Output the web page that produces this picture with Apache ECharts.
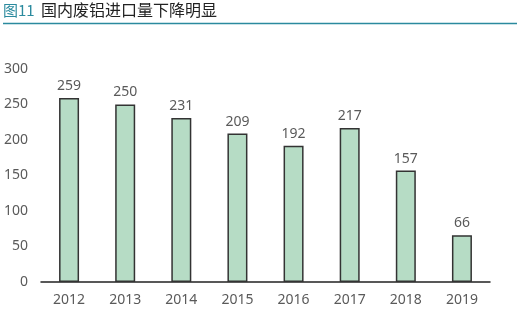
<!DOCTYPE html>
<html><head><meta charset="utf-8">
<script src="https://cdn.jsdelivr.net/npm/echarts@6/dist/echarts.min.js"></script>
<style>html,body{margin:0;padding:0;background:#fff;}#c{width:517px;height:317px;}</style>
</head><body><div id="c"></div>
<script>
const categories = ['2012','2013','2014','2015','2016','2017','2018','2019'];
const values = [259,250,231,209,192,217,157,66];
const yTicks = [0,50,100,150,200,250,300];

const chart = echarts.init(document.getElementById('c'), null, {renderer:'canvas'});
chart.setOption({
  animation:false,
  graphic:[
    {type:'text', left:3, top:3, style:{text:'图11', fill:'#2b8a9e', font:'15px "Noto Sans CJK SC", "Noto Sans"'}},
    {type:'text', left:41, top:2, style:{text:'国内废铝进口量下降明显', fill:'#222', font:'16px "Noto Sans CJK SC"'}},
    {type:'line', shape:{x1:3,y1:23.5,x2:517,y2:23.5}, style:{stroke:'#2b8a9e', lineWidth:1.5}}
  ],
  grid:{left:41, right:27, top:69, bottom:35, containLabel:false},
  xAxis:{type:'category', data:categories,
    axisLine:{lineStyle:{color:'#222', width:1.5}}, axisTick:{show:false},
    axisLabel:{color:'#5a5a5a', fontSize:14, margin:11, fontFamily:'"Noto Sans", sans-serif'}},
  yAxis:{type:'value', min:0, max:300, interval:50,
    axisLine:{show:false}, axisTick:{show:false}, splitLine:{show:false},
    axisLabel:{color:'#5a5a5a', fontSize:14, margin:13, fontFamily:'"Noto Sans", sans-serif',
      formatter:v=>yTicks.includes(v)?String(v):''}},
  series:[{type:'bar', data:values, barWidth:20,
    itemStyle:{color:'#b6dcc5', borderColor:'#333', borderWidth:1.5},
    label:{show:true, position:'top', color:'#5a5a5a', fontSize:14, distance:5, fontFamily:'"Noto Sans", sans-serif'}}]
});
</script></body></html>
